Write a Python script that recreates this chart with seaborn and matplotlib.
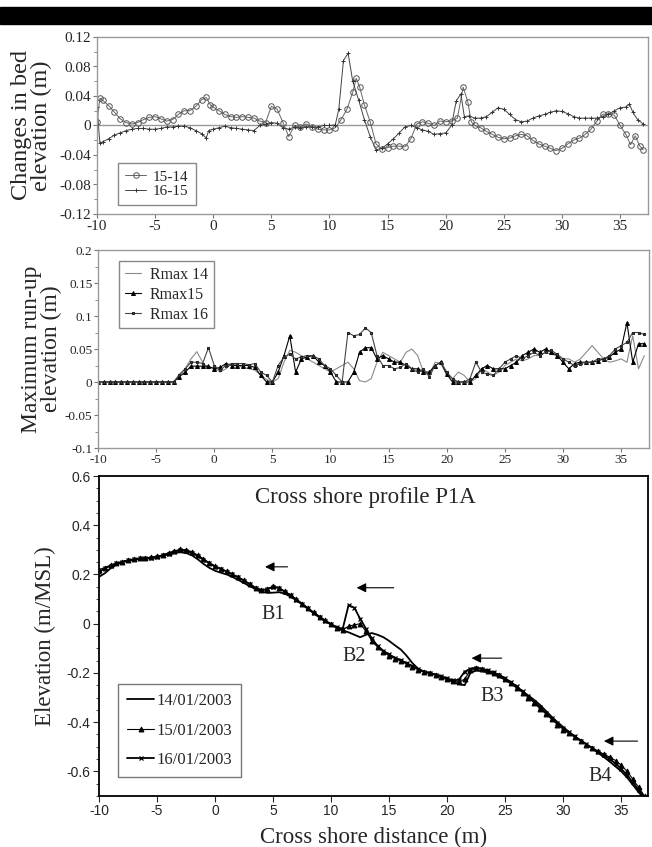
import numpy as np
import matplotlib.pyplot as plt
from matplotlib.patches import Rectangle
from matplotlib.ticker import MultipleLocator
import seaborn as sns

# ---- panel 1: changes in bed elevation ----
x_1514 = [-10, -9.75, -9.5, -9, -8.5, -8, -7.5, -7, -6.5, -6, -5.5, -5, -4.5, -4, -3.5, -3, -2.5, -2, -1.5, -1,
          -0.6, -0.25, 0, 0.5, 1, 1.5, 2, 2.5, 3, 3.5, 4, 4.5, 5, 5.5, 6, 6.5, 7, 7.5, 8, 8.5, 9, 9.5, 10, 10.5,
          11, 11.5, 12, 12.3, 12.6, 13, 13.5, 14, 14.5, 15, 15.5, 16, 16.5, 17, 17.5, 18, 18.5, 19, 19.5, 20,
          20.5, 21, 21.5, 21.9, 22.2, 22.5, 23, 23.5, 24, 24.5, 25, 25.5, 26, 26.5, 27, 27.5, 28, 28.5, 29, 29.5,
          30, 30.5, 31, 31.5, 32, 32.5, 33, 33.5, 34, 34.5, 35, 35.5, 35.9, 36.3, 36.7, 37]
y_1514 = [0.005, 0.037, 0.034, 0.027, 0.018, 0.009, 0.004, 0.002, 0.004, 0.008, 0.011, 0.012, 0.009, 0.006, 0.008,
          0.015, 0.02, 0.02, 0.026, 0.035, 0.038, 0.028, 0.025, 0.02, 0.015, 0.012, 0.011, 0.012, 0.011, 0.01,
          0.006, 0.004, 0.026, 0.022, 0.004, -0.015, 0.0, -0.002, 0.002, -0.002, -0.005, -0.006, -0.006, -0.003,
          0.008, 0.022, 0.045, 0.064, 0.052, 0.028, 0.005, -0.025, -0.032, -0.03, -0.028, -0.028, -0.029, -0.018,
          0.002, 0.005, 0.003, 0.0, 0.006, 0.005, 0.006, 0.01, 0.052, 0.032, 0.005, 0.0, -0.003, -0.008, -0.012,
          -0.016, -0.018, -0.017, -0.014, -0.012, -0.014, -0.02, -0.025, -0.028, -0.031, -0.034, -0.031, -0.025,
          -0.02, -0.017, -0.012, -0.005, 0.006, 0.015, 0.016, 0.014, 0.0, -0.012, -0.026, -0.014, -0.028, -0.033]

x_1615 = [-10, -9.75, -9.5, -9, -8.5, -8, -7.5, -7, -6.5, -6, -5.5, -5, -4.5, -4, -3.5, -3, -2.5, -2, -1.5, -1,
          -0.6, -0.4, 0, 0.5, 1, 1.5, 2, 2.5, 3, 3.5, 4, 4.5, 5, 5.5, 6, 6.5, 7, 7.5, 8, 8.5, 9, 9.5, 10, 10.5,
          10.8, 11.2, 11.6, 12, 12.5, 13, 13.5, 14, 14.5, 15, 15.5, 16, 16.5, 17, 17.5, 18, 18.5, 19, 19.5, 20,
          20.5, 20.9, 21.3, 21.6, 22, 22.5, 23, 23.5, 24, 24.5, 25, 25.5, 26, 26.5, 27, 27.5, 28, 28.5, 29, 29.5,
          30, 30.5, 31, 31.5, 32, 32.5, 33, 33.5, 34, 34.5, 35, 35.5, 35.8, 36.1, 36.5, 37]
y_1615 = [0.025, -0.024, -0.022, -0.018, -0.013, -0.01, -0.007, -0.005, -0.004, -0.004, -0.005, -0.005, -0.004,
          -0.002, -0.002, -0.001, -0.001, -0.003, -0.007, -0.011, -0.017, -0.007, -0.005, -0.003, -0.001, -0.003,
          -0.004, -0.005, -0.006, -0.007, 0.0, 0.002, 0.004, 0.003, -0.003, -0.005, -0.002, -0.003, -0.002, -0.002,
          -0.002, 0.0, 0.0, 0.001, 0.022, 0.088, 0.098, 0.06, 0.035, 0.008, -0.015, -0.033, -0.031, -0.025, -0.018,
          -0.01, -0.002, 0.0, -0.003, -0.006, -0.008, -0.012, -0.011, -0.01, 0.0, 0.033, 0.043, 0.012, 0.013, 0.01,
          0.01, 0.012, 0.018, 0.024, 0.022, 0.015, 0.008, 0.005, 0.006, 0.01, 0.013, 0.015, 0.018, 0.02, 0.019,
          0.016, 0.012, 0.01, 0.01, 0.01, 0.01, 0.012, 0.015, 0.02, 0.024, 0.025, 0.029, 0.018, 0.008, 0.002]

# ---- panel 2: maximum run-up (0.5 m grid) ----
x_run = np.arange(-10, 37.5, 0.5)
rmax14 = [0.0] * 14 + [
    0.012, 0.02, 0.035, 0.046, 0.03, 0.02, 0.022, 0.015, 0.02, 0.028,
    0.025, 0.022, 0.02, 0.018, 0.01, 0.004, 0.0, 0.005, 0.03, 0.048,
    0.045, 0.04, 0.035, 0.03, 0.025, 0.02, 0.015, 0.02, 0.025, 0.03,
    0.02, 0.002, 0.0, 0.005, 0.03, 0.045, 0.04, 0.035, 0.03, 0.045,
    0.05, 0.04, 0.015, 0.01, 0.03, 0.028, 0.01, 0.005, 0.015, 0.01,
    0.0, 0.005, 0.02, 0.015, 0.01, 0.015, 0.025, 0.03, 0.035, 0.032,
    0.035, 0.04, 0.04, 0.045, 0.042, 0.04, 0.035, 0.035, 0.03, 0.035,
    0.045, 0.055, 0.045, 0.035, 0.03, 0.032, 0.035, 0.03, 0.07, 0.02,
    0.04]
rmax15 = [0.0] * 14 + [
    0.008, 0.015, 0.024, 0.024, 0.024, 0.024, 0.02, 0.022, 0.028, 0.025,
    0.025, 0.025, 0.025, 0.022, 0.01, 0.0, 0.0, 0.015, 0.04, 0.07,
    0.015, 0.035, 0.038, 0.04, 0.03, 0.025, 0.015, 0.0, 0.0, 0.0,
    0.015, 0.045, 0.052, 0.052, 0.035, 0.04, 0.035, 0.03, 0.03, 0.025,
    0.02, 0.02, 0.015, 0.015, 0.025, 0.03, 0.012, 0.0, 0.0, 0.0,
    0.0, 0.01, 0.02, 0.025, 0.02, 0.02, 0.02, 0.025, 0.03, 0.04,
    0.045, 0.05, 0.045, 0.05, 0.045, 0.04, 0.03, 0.02, 0.028, 0.03,
    0.03, 0.03, 0.032, 0.035, 0.038, 0.045, 0.05, 0.09, 0.03, 0.058,
    0.058]
rmax16 = [0.0] * 14 + [
    0.01, 0.02, 0.03, 0.03, 0.028, 0.052, 0.025, 0.018, 0.025, 0.028,
    0.028, 0.028, 0.026, 0.028, 0.015, 0.01, 0.0, 0.025, 0.038, 0.042,
    0.035, 0.038, 0.04, 0.04, 0.035, 0.025, 0.02, 0.01, 0.0, 0.075,
    0.07, 0.072, 0.082, 0.075, 0.04, 0.025, 0.025, 0.02, 0.022, 0.028,
    0.02, 0.015, 0.02, 0.008, 0.025, 0.03, 0.015, 0.005, 0.0, 0.0,
    0.005, 0.03, 0.015, 0.012, 0.01, 0.02, 0.03, 0.035, 0.04, 0.035,
    0.04, 0.045, 0.04, 0.045, 0.048, 0.042, 0.035, 0.03, 0.025, 0.028,
    0.03, 0.03, 0.035, 0.035, 0.04, 0.05, 0.055, 0.06, 0.075, 0.075,
    0.072]

# ---- panel 3: cross shore profile P1A (0.5 m grid) ----
x_prof = np.arange(-10, 37.5, 0.5)
prof_14 = [0.19, 0.205, 0.225, 0.24, 0.25, 0.256, 0.26, 0.263, 0.265, 0.266,
           0.27, 0.276, 0.282, 0.288, 0.29, 0.287, 0.278, 0.262, 0.243, 0.227,
           0.215, 0.207, 0.2, 0.19, 0.178, 0.165, 0.152, 0.14, 0.13, 0.125,
           0.126, 0.128, 0.122, 0.11, 0.095, 0.078, 0.06, 0.042, 0.025, 0.01,
           -0.004, -0.018, -0.028, -0.035, -0.045, -0.055, -0.045, -0.038, -0.045, -0.055,
           -0.07, -0.088, -0.105, -0.13, -0.16, -0.183, -0.195, -0.2, -0.207, -0.215,
           -0.227, -0.237, -0.245, -0.25, -0.2, -0.19, -0.193, -0.198, -0.205, -0.215,
           -0.228, -0.243, -0.26, -0.276, -0.292, -0.31, -0.33, -0.354, -0.378, -0.4,
           -0.42, -0.44, -0.458, -0.474, -0.49, -0.507, -0.525, -0.542, -0.56, -0.58,
           -0.6, -0.625, -0.655, -0.685, -0.712]
prof_15 = [0.22, 0.228, 0.238, 0.247, 0.252, 0.258, 0.262, 0.265, 0.267, 0.269,
           0.273, 0.28, 0.288, 0.296, 0.302, 0.3, 0.292, 0.279, 0.263, 0.248,
           0.235, 0.224, 0.213, 0.201, 0.189, 0.176, 0.161, 0.147, 0.137, 0.142,
           0.152, 0.146, 0.132, 0.116, 0.1, 0.082, 0.064, 0.046, 0.029, 0.013,
           -0.002, -0.016, -0.025, -0.01, -0.005, 0.0, -0.03, -0.07, -0.095, -0.115,
           -0.13, -0.142, -0.152, -0.163, -0.175, -0.187, -0.197, -0.202, -0.209, -0.216,
           -0.225, -0.232, -0.238, -0.225, -0.19, -0.182, -0.186, -0.193, -0.2, -0.21,
           -0.225, -0.242, -0.26, -0.28, -0.3, -0.322, -0.345, -0.367, -0.388, -0.41,
           -0.43, -0.446, -0.462, -0.478, -0.492, -0.505, -0.518, -0.53, -0.542, -0.556,
           -0.575, -0.6, -0.632, -0.665, -0.7]
prof_16 = [0.21, 0.225, 0.235, 0.245, 0.25, 0.257, 0.262, 0.265, 0.267, 0.268,
           0.272, 0.278, 0.285, 0.293, 0.298, 0.296, 0.288, 0.275, 0.26, 0.245,
           0.232, 0.222, 0.212, 0.2, 0.188, 0.175, 0.16, 0.145, 0.135, 0.14,
           0.15, 0.145, 0.13, 0.115, 0.098, 0.08, 0.062, 0.045, 0.028, 0.012,
           -0.002, -0.015, -0.02, 0.075, 0.065, 0.02, -0.02, -0.06, -0.09, -0.11,
           -0.125, -0.138, -0.148, -0.16, -0.172, -0.185, -0.195, -0.2, -0.207, -0.213,
           -0.222, -0.23, -0.228, -0.195, -0.183, -0.178, -0.183, -0.19, -0.198, -0.208,
           -0.222, -0.238, -0.255, -0.275, -0.295, -0.318, -0.34, -0.362, -0.383, -0.405,
           -0.425, -0.442, -0.458, -0.475, -0.49, -0.505, -0.52, -0.535, -0.55, -0.568,
           -0.59, -0.615, -0.645, -0.675, -0.705]

xticks = [-10, -5, 0, 5, 10, 15, 20, 25, 30, 35]
yticks1 = [-0.12, -0.08, -0.04, 0, 0.04, 0.08, 0.12]
ylabels1 = ['-0.12', '-0.08', '-0.04', '0', '0.04', '0.08', '0.12']
yticks2 = [-0.1, -0.05, 0, 0.05, 0.1, 0.15, 0.2]
ylabels2 = ['-0.1', '-0.05', '0', '0.05', '0.1', '0.15', '0.2']
yticks3 = [-0.6, -0.4, -0.2, 0, 0.2, 0.4, 0.6]
ylabels3 = ['-0.6', '-0.4', '-0.2', '0', '0.2', '0.4', '0.6']

bars = ['B1', 'B2', 'B3', 'B4']
bar_pos = [(5.0, 0.037), (12.0, -0.132), (23.9, -0.297), (33.2, -0.62)]
arrows = [(6.25, 4.3, 0.231), (15.4, 12.2, 0.146), (24.7, 22.1, -0.14), (36.4, 33.5, -0.477)]

sns.set_style('ticks')
plt.rcParams['font.family'] = ['Liberation Serif', 'DejaVu Serif']
sans = 'Liberation Sans'

fig = plt.figure(figsize=(6.52, 8.47), dpi=100)
fig.add_artist(Rectangle((0, 1 - 24 / 847), 1, 17 / 847, transform=fig.transFigure,
                         color='black', zorder=5))

W, H = 652, 847
def box(l, t, r, b):
    return [l / W, 1 - b / H, (r - l) / W, (b - t) / H]

ax1 = fig.add_axes(box(97, 37, 648, 214))
ax2 = fig.add_axes(box(98, 250, 649, 448))
ax3 = fig.add_axes(box(99, 476, 648, 796))

# panel 1
ax1.axhline(0, color='#999999', lw=1, zorder=1)
sns.lineplot(x=x_1514, y=y_1514, ax=ax1, color='#666666', lw=0.7, marker='o', markersize=4,
             markerfacecolor='none', markeredgecolor='#555555', markeredgewidth=0.7,
             label='15-14', estimator=None, sort=False)
sns.lineplot(x=x_1615, y=y_1615, ax=ax1, color='#444444', lw=0.7, marker='+', markersize=3.5,
             markeredgecolor='#333333', markeredgewidth=0.7,
             label='16-15', estimator=None, sort=False)
ax1.set_ylim(-0.12, 0.12)
ax1.set_yticks(yticks1)
ax1.set_yticklabels(ylabels1)
ax1.yaxis.set_minor_locator(MultipleLocator(0.02))
ax1.set_ylabel('Changes in bed\nelevation (m)', fontsize=17.5, linespacing=0.9)
ax1.yaxis.set_label_coords(-0.082, 0.5)
ax1.legend(loc='lower left', bbox_to_anchor=(0.038, 0.05), borderaxespad=0, fontsize=11,
           frameon=True, fancybox=False, edgecolor='#888888', framealpha=1, handlelength=1.4,
           borderpad=0.45, labelspacing=0.05, handletextpad=0.45)

# panel 2
sns.lineplot(x=x_run, y=rmax14, ax=ax2, color='#8a8a8a', lw=0.8, label='Rmax 14',
             estimator=None, sort=False)
sns.lineplot(x=x_run, y=rmax15, ax=ax2, color='black', lw=0.8, marker='^', markersize=2.8,
             markeredgecolor='black', label='Rmax15', estimator=None, sort=False)
sns.lineplot(x=x_run, y=rmax16, ax=ax2, color='#444444', lw=0.8, marker='s', markersize=1.8,
             markeredgecolor='#222222', label='Rmax 16', estimator=None, sort=False)
ax2.set_ylim(-0.1, 0.2)
ax2.set_yticks(yticks2)
ax2.set_yticklabels(ylabels2)
ax2.yaxis.set_minor_locator(MultipleLocator(0.025))
ax2.set_ylabel('Maximum run-up\nelevation (m)', fontsize=17, linespacing=0.9)
ax2.yaxis.set_label_coords(-0.066, 0.5)
ax2.legend(loc='upper left', bbox_to_anchor=(0.038, 0.944), borderaxespad=0, fontsize=11.5,
           frameon=True, fancybox=False, edgecolor='#888888', framealpha=1, handlelength=1.0,
           borderpad=0.35, labelspacing=0.25, handletextpad=0.6)

for ax, lab in [(ax1, 11), (ax2, 9.5)]:
    ax.set_xlim(-10, 37.4)
    ax.set_xticks(xticks)
    ax.set_xticklabels([str(t) for t in xticks])
    for s in ax.spines.values():
        s.set_visible(True)
        s.set_color('#9a9a9a')
        s.set_linewidth(1.0)
    ax.tick_params(axis='both', which='major', direction='out', length=3, width=0.8,
                   color='#777777', labelsize=lab, pad=1)
    ax.tick_params(axis='y', which='minor', direction='out', length=2, width=0.6, color='#777777')
    ax.set_xlabel('')

# panel 3
sns.lineplot(x=x_prof, y=prof_14, ax=ax3, color='black', lw=1.3, label='14/01/2003',
             estimator=None, sort=False)
sns.lineplot(x=x_prof, y=prof_15, ax=ax3, color='black', lw=0.8, marker='^', markersize=3.5,
             markeredgecolor='black', label='15/01/2003', estimator=None, sort=False)
sns.lineplot(x=x_prof, y=prof_16, ax=ax3, color='black', lw=1.3, marker='x', markersize=3.5,
             markeredgecolor='black', markeredgewidth=0.9, label='16/01/2003',
             estimator=None, sort=False)
ax3.set_xlim(-10, 37.3)
ax3.set_ylim(-0.7, 0.6)
ax3.set_xticks(xticks)
ax3.set_xticklabels([str(t) for t in xticks], family=sans)
ax3.set_yticks(yticks3)
ax3.set_yticklabels(ylabels3, family=sans)
ax3.yaxis.set_minor_locator(MultipleLocator(0.05))
for s in ax3.spines.values():
    s.set_visible(True)
    s.set_color('black')
    s.set_linewidth(1.3)
ax3.tick_params(axis='both', which='major', direction='out', length=4, width=0.8,
                labelsize=10, pad=2)
ax3.tick_params(axis='y', which='minor', direction='out', length=2.5, width=0.6)
ax3.set_ylabel('Elevation (m/MSL)', fontsize=16.5)
ax3.yaxis.set_label_coords(-0.078, 0.5)
ax3.set_xlabel('Cross shore distance (m)', fontsize=16.5, labelpad=6)
ax3.text(0.485, 0.934, 'Cross shore profile P1A', transform=ax3.transAxes, fontsize=16.5,
         ha='center', va='center')
for name, (bx, by) in zip(bars, bar_pos):
    ax3.text(bx, by, name, fontsize=14.5, ha='center', va='center')
for x0, x1, ya in arrows:
    ax3.annotate('', xy=(x1, ya), xytext=(x0, ya),
                 arrowprops=dict(arrowstyle='-|>', color='black', lw=0.8, mutation_scale=14,
                                 shrinkA=0, shrinkB=0))
ax3.legend(loc='lower left', bbox_to_anchor=(0.035, 0.059), borderaxespad=0, fontsize=12,
           frameon=True, fancybox=False, edgecolor='#777777', framealpha=1, handlelength=1.6,
           borderpad=0.55, labelspacing=0.8, handletextpad=0.15)

fig.savefig('out.png', dpi=100)
